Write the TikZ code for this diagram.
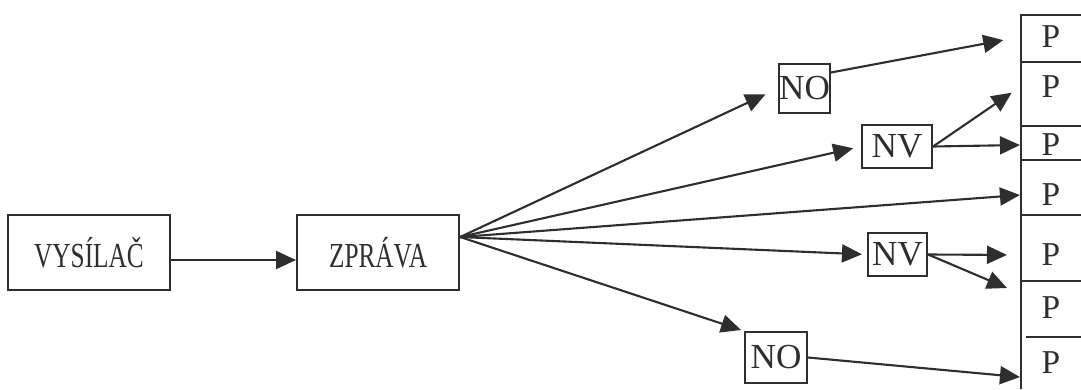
\documentclass[tikz,border=0pt]{standalone}
\usepackage{fontspec}
\setmainfont{Liberation Serif}
\newfontfamily\narrowfont[FakeStretch=0.72]{Liberation Serif}
\usetikzlibrary{positioning,arrows.meta,calc}
\definecolor{ink}{HTML}{2E2E2E}
\tikzset{%
	block/.style    = {draw, rectangle, minimum height = 1.5cm,
		minimum width = 3.24cm, font=\narrowfont\fontsize{20}{24}\selectfont},
	smallbox/.style = {draw, rectangle, inner sep=0pt, font=\fontsize{20}{24}\selectfont},
	pcell/.style    = {minimum width=1.2cm, minimum height=0.52cm, inner sep=0pt,
		font=\fontsize{19}{22}\selectfont}
}
\begin{document}
\begin{tikzpicture}[x=0.02cm, y=-0.02cm, line width=1.2pt, color=ink,
	>={Triangle[length=0.4cm,width=0.36cm]}]
	\useasboundingbox (0,0) rectangle (1081,389);
	\clip (0,0) rectangle (1081,389);
	\draw
	node at (89,252.5)[block] (vys) {VYSÍLAČ}
	node [block, right=2.5cm of vys] (zpr) {ZPRÁVA}
	node at (804.5,88.5)[smallbox, minimum width=0.98cm, minimum height=0.98cm] (no1) {NO}
	node at (897,146.5)[smallbox, minimum width=1.4cm, minimum height=0.86cm] (nv1) {NV}
	node at (897.5,254.5)[smallbox, minimum width=1.18cm, minimum height=0.86cm] (nv2) {NV}
	node at (776,357.5)[smallbox, minimum width=1.24cm, minimum height=1.02cm] (no2) {NO};
	
	% column of P cells
	\draw (1081,15) -- (1021,15) -- (1021,389);
	\foreach \y in {62,126,160,215,281} \draw (1021,\y) -- (1081,\y);
	\draw (1026,337) -- (1081,337);
	\foreach \i/\y in {1/37,2/87,3/145,4/195,5/255,6/308,7/363}
		\node[pcell] (p\i) at (1051,\y) {P};
	
	\draw[->] ([yshift=-0.15cm]vys.east) -- ([yshift=-0.15cm]zpr.west);
	\coordinate (fan) at ([yshift=0.31cm]zpr.east);
	\draw[->, shorten >=0.28cm] (fan) -- (no1.west);
	\draw[->, shorten >=0.16cm] (fan) -- (nv1.west);
	\draw[->] (fan) -- (p4.west);
	\draw[->, shorten >=0.1cm] (fan) -- (nv2.west);
	\draw[->, shorten >=0.06cm] (fan) -- (no2.north west);
	
	\draw[->, shorten >=0.34cm] ([yshift=0.32cm]no1.east) -- (p1.west);
	\draw[->, shorten >=0.2cm] (nv1.east) -- (p2.west);
	\draw[->] (nv1.east) -- (p3.west);
	\draw[->, shorten >=0.26cm] (nv2.east) -- (p5.west);
	\coordinate (nv2b) at (1007,288);
	\draw[->] (nv2.east) -- (nv2b);
	\draw[->] (no2.east) -- (p7.south west);
	
\end{tikzpicture}
\end{document}
